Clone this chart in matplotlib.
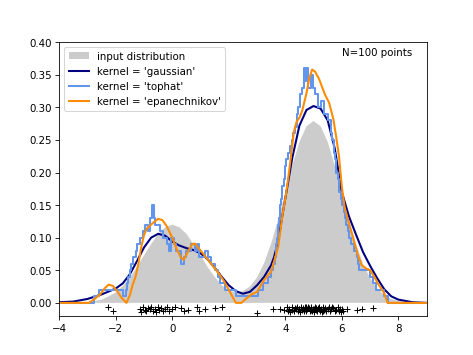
import numpy as np
import matplotlib
matplotlib.use("Agg")
import matplotlib.pyplot as plt

# --- values ---
# input distribution (grey area)
true_x = [-4.0, -3.75, -3.5, -3.25, -3.0, -2.75, -2.5, -2.25, -2.0, -1.75, -1.5, -1.25,
          -1.0, -0.75, -0.5, -0.25, 0.0, 0.25, 0.5, 0.75, 1.0, 1.25, 1.5, 1.75, 2.0,
          2.25, 2.5, 2.75, 3.0, 3.25, 3.5, 3.75, 4.0, 4.25, 4.5, 4.75, 5.0, 5.25, 5.5,
          5.75, 6.0, 6.25, 6.5, 6.75, 7.0, 7.25, 7.5, 7.75, 8.0, 8.25, 8.5, 8.75, 9.0]
true_dens = [0.000, 0.000, 0.000, 0.001, 0.001, 0.003, 0.005, 0.010, 0.016, 0.026, 0.039, 0.055,
             0.073, 0.090, 0.106, 0.116, 0.120, 0.116, 0.106, 0.090, 0.073, 0.055, 0.040, 0.027, 0.019,
             0.016, 0.018, 0.025, 0.039, 0.061, 0.091, 0.128, 0.169, 0.211, 0.247, 0.271, 0.279, 0.271, 0.247,
             0.211, 0.169, 0.128, 0.091, 0.060, 0.038, 0.022, 0.012, 0.006, 0.003, 0.001, 0.001, 0.000, 0.000]

# gaussian kernel
gauss_x = [-4.0, -3.5, -3.0, -2.5, -2.0, -1.75, -1.5, -1.25, -1.0, -0.75, -0.5, -0.25, 0.0,
           0.25, 0.5, 0.75, 1.0, 1.25, 1.5, 1.75, 2.0, 2.25, 2.5, 2.75, 3.0, 3.25, 3.5, 3.6,
           3.75, 3.9, 4.0, 4.25, 4.5, 4.75, 5.0, 5.25, 5.5, 5.75, 6.0, 6.25, 6.5, 6.75, 7.0,
           7.25, 7.5, 7.75, 8.0, 8.5, 9.0]
gauss_y = [0.001, 0.002, 0.006, 0.013, 0.022, 0.030, 0.044, 0.064, 0.085, 0.100, 0.106, 0.103, 0.094,
           0.088, 0.084, 0.081, 0.076, 0.067, 0.054, 0.040, 0.027, 0.018, 0.014, 0.017, 0.027, 0.040, 0.058, 0.070,
           0.095, 0.135, 0.160, 0.223, 0.272, 0.296, 0.302, 0.298, 0.280, 0.237, 0.170, 0.133, 0.105, 0.078, 0.057,
           0.038, 0.021, 0.010, 0.005, 0.001, 0.000]

# tophat kernel (step edges and levels)
top_edges = [-4.0, -2.76, -2.6, -1.75, -1.65, -1.6, -1.55, -1.5, -1.45, -1.4, -1.35, -1.3, -1.25,
             -1.2, -1.15, -1.1, -1.05, -0.95, -0.85, -0.78, -0.72, -0.66, -0.62, -0.42, -0.32,
             -0.2, -0.1, -0.05, 0.05, 0.12, 0.3, 0.4, 0.5, 0.65, 0.8, 0.88, 0.95, 1.15, 1.28,
             1.38, 1.5, 1.62, 1.7, 1.88, 2.25, 3.05, 3.2, 3.4, 3.5, 3.58, 3.62, 3.66, 3.70,
             3.74, 3.78, 3.82, 3.86, 3.90, 3.94, 3.98, 4.04, 4.10, 4.16, 4.22, 4.28, 4.34,
             4.40, 4.46, 4.52, 4.58, 4.65, 4.70, 4.75, 4.80, 4.90, 4.97, 5.05, 5.15, 5.25,
             5.38, 5.52, 5.6, 5.66, 5.71, 5.76, 5.81, 5.86, 5.91, 5.96, 6.01, 6.06, 6.11, 6.16,
             6.21, 6.26, 6.34, 6.43, 6.52, 6.57, 6.62, 6.75, 7.0, 7.1, 7.2, 7.5, 7.65, 9.0]
top_levels = [0.00, 0.01, 0.02, 0.01, 0.02, 0.03, 0.04, 0.05, 0.06, 0.07, 0.07, 0.08, 0.09,
              0.09, 0.10, 0.10, 0.11, 0.12, 0.11, 0.13, 0.15, 0.13, 0.12, 0.11, 0.10,
              0.09, 0.08, 0.10, 0.09, 0.08, 0.06, 0.07, 0.08, 0.09, 0.08, 0.09, 0.07, 0.08, 0.07,
              0.06, 0.05, 0.04, 0.03, 0.02, 0.01, 0.02, 0.03, 0.04, 0.05, 0.06, 0.07, 0.09, 0.10,
              0.12, 0.13, 0.15, 0.16, 0.18, 0.19, 0.21, 0.22, 0.23, 0.24, 0.25, 0.26, 0.27,
              0.29, 0.30, 0.32, 0.33, 0.36, 0.34, 0.36, 0.33, 0.35, 0.33, 0.32, 0.30, 0.31,
              0.29, 0.28, 0.26, 0.25, 0.23, 0.22, 0.20, 0.19, 0.17, 0.16, 0.15, 0.14, 0.13, 0.12,
              0.11, 0.10, 0.09, 0.08, 0.07, 0.06, 0.05, 0.05, 0.04, 0.03, 0.02, 0.01, 0.00, 0.00]

# epanechnikov kernel
epa_x = [-4.0, -2.95, -2.75, -2.55, -2.4, -2.25, -2.1, -1.95, -1.8, -1.62, -1.5, -1.4, -1.3,
         -1.2, -1.1, -1.0, -0.9, -0.7, -0.5, -0.35, -0.2, 0.0, 0.15, 0.3, 0.4, 0.55, 0.7,
         0.8, 0.95, 1.1, 1.3, 1.5, 1.7, 1.85, 2.0, 2.15, 2.25, 2.45, 2.6, 2.8, 3.0, 3.25,
         3.5, 3.75, 3.9, 4.0, 4.1, 4.2, 4.3, 4.4, 4.5, 4.6, 4.75, 4.85, 4.95, 5.05, 5.2,
         5.4, 5.55, 5.7, 5.8, 5.9, 6.0, 6.1, 6.25, 6.4, 6.55, 6.7, 6.85, 7.0, 7.15, 7.3,
         7.5, 7.62, 9.0]
epa_y = [0.000, 0.000, 0.006, 0.013, 0.022, 0.028, 0.026, 0.018, 0.008, 0.000, 0.012, 0.028, 0.040,
         0.060, 0.085, 0.104, 0.114, 0.122, 0.129, 0.127, 0.118, 0.100, 0.083, 0.070, 0.066, 0.078, 0.090,
         0.091, 0.083, 0.075, 0.064, 0.053, 0.042, 0.032, 0.020, 0.008, 0.000, 0.000, 0.006, 0.013, 0.017, 0.035,
         0.048, 0.086, 0.135, 0.160, 0.190, 0.225, 0.262, 0.278, 0.284, 0.295, 0.322, 0.345, 0.358, 0.355, 0.343,
         0.320, 0.307, 0.282, 0.255, 0.225, 0.178, 0.147, 0.122, 0.100, 0.076, 0.058, 0.053, 0.050, 0.040, 0.028,
         0.015, 0.000, 0.000]

# sample points shown as "+" under the axis line
pts_x = [-2.26, -2.09, -1.14, -1.1, -1.04, -0.98, -0.92, -0.86, -0.8, -0.74, -0.68, -0.62, -0.57,
         -0.52, -0.46, -0.4, -0.33, -0.27, -0.2, -0.12, 0.0, 0.1, 0.3, 0.4, 0.55, 0.88, 0.95, 1.15,
         1.5, 1.75,
         3.0, 3.57, 3.8, 3.95,
         4.05, 4.1, 4.12, 4.18, 4.22, 4.25, 4.3, 4.33, 4.38, 4.42, 4.45, 4.5, 4.52, 4.56, 4.6,
         4.62, 4.66, 4.7, 4.72, 4.75, 4.78, 4.8, 4.83, 4.86, 4.9, 4.92, 4.95, 4.98, 5.0, 5.03,
         5.06, 5.1, 5.12, 5.15, 5.18, 5.2, 5.24, 5.28, 5.3, 5.34, 5.38, 5.42, 5.45, 5.5, 5.53,
         5.58, 5.62, 5.66, 5.7, 5.75, 5.8, 5.85, 5.9, 5.94, 5.98, 6.02, 6.05, 4.68, 4.88, 5.08,
         5.35, 4.48,
         6.2, 6.55, 6.72, 7.1]
pts_y = [-0.007, -0.012, -0.009, -0.014, -0.006, -0.011, -0.013, -0.008, -0.010, -0.007, -0.012, -0.009, -0.014,
         -0.006, -0.011, -0.008, -0.013, -0.010, -0.007, -0.012, -0.009, -0.006, -0.008, -0.013, -0.011, -0.007, -0.012, -0.009,
         -0.008, -0.006,
         -0.015, -0.009, -0.010, -0.011,
         -0.007, -0.012, -0.009, -0.014, -0.006, -0.011, -0.013, -0.008, -0.010, -0.007, -0.012, -0.009, -0.014, -0.006, -0.011,
         -0.008, -0.013, -0.010, -0.007, -0.012, -0.009, -0.006, -0.008, -0.013, -0.011, -0.007, -0.012, -0.009, -0.014, -0.010,
         -0.006, -0.011, -0.013, -0.008, -0.010, -0.007, -0.012, -0.009, -0.014, -0.006, -0.011, -0.008, -0.013, -0.010, -0.007,
         -0.012, -0.009, -0.006, -0.008, -0.013, -0.011, -0.007, -0.012, -0.009, -0.014, -0.010, -0.013, -0.006, -0.011, -0.008,
         -0.012, -0.009,
         -0.010, -0.011, -0.010, -0.008]

kernels = ["gaussian", "tophat", "epanechnikov"]
colors = ["navy", "cornflowerblue", "darkorange"]
lw = 2

fig, ax = plt.subplots(figsize=(6.4, 4.8), dpi=74.06)

ax.fill_between(true_x, true_dens, 0, facecolor="black", alpha=0.2, linewidth=0,
                label="input distribution")
ax.plot(gauss_x, gauss_y, color=colors[0], lw=lw, label="kernel = '{0}'".format(kernels[0]))
ax.step(top_edges, top_levels, where="post", color=colors[1], lw=lw,
        label="kernel = '{0}'".format(kernels[1]))
ax.plot(epa_x, epa_y, color=colors[2], lw=lw, label="kernel = '{0}'".format(kernels[2]))

ax.text(6, 0.38, "N={0} points".format(len(pts_x)))
ax.legend(loc="upper left")
ax.plot(pts_x, pts_y, "+k")

ax.set_xlim(-4, 9)
ax.set_ylim(-0.02, 0.4)

fig.savefig("out.png", dpi=74.06)
